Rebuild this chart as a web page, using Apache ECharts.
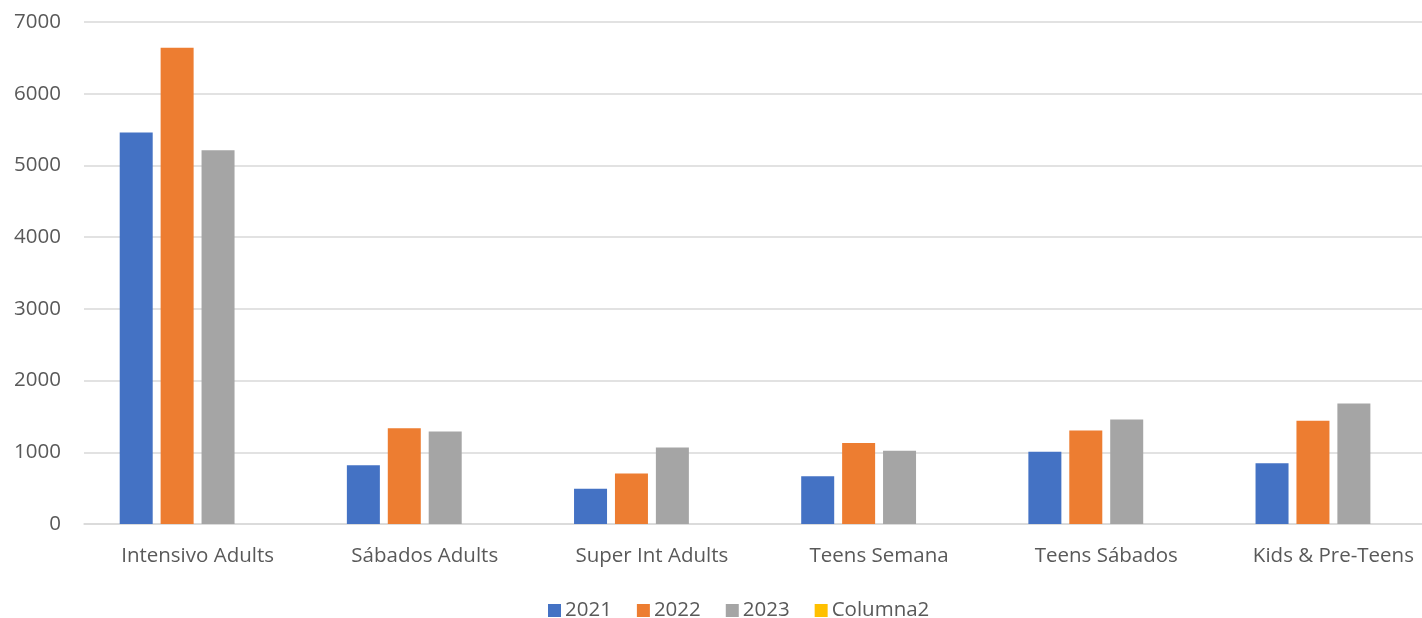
<!DOCTYPE html>
<html><head><meta charset="utf-8">
<script src="https://cdn.jsdelivr.net/npm/echarts@6/dist/echarts.min.js"></script>
<style>html,body{margin:0;padding:0;background:#fff;overflow:hidden}#c{width:1450px;height:618px}</style>
</head><body><div id="c"></div>
<script>
const categories = ['Intensivo Adults','Sábados Adults','Super Int Adults','Teens Semana','Teens Sábados','Kids & Pre-Teens'];
const s2021 = [5460, 820, 490, 666, 1006, 848];
const s2022 = [6640, 1336, 703, 1131, 1303, 1439];
const s2023 = [5210, 1289, 1066, 1020, 1457, 1680];
const columna2 = [null, null, null, null, null, null];
const yTicks = [0,1000,2000,3000,4000,5000,6000,7000];

const font = 'Open Sans';
const fs = 20.5;
const chart = echarts.init(document.getElementById('c'));
function bar(name, data, color){
  return {name, type:'bar', data, itemStyle:{color}, barWidth:33, barGap:'24%', barCategoryGap:'30%'};
}
chart.setOption({
  animation:false,
  grid:{left:84,right:3,top:22,bottom:94},
  legend:{top:595,left:543,itemWidth:13,itemHeight:13,itemGap:25,icon:'rect',
    textStyle:{color:'#595959',fontSize:fs,fontFamily:font,padding:[0,0,0,-1]}},
  xAxis:{type:'category',data:categories,
    axisLine:{lineStyle:{color:'#d9d9d9',width:1.5}},axisTick:{show:false},
    axisLabel:{color:'#595959',fontSize:fs,fontFamily:font,margin:22}},
  yAxis:{type:'value',min:0,max:7000,interval:1000,
    axisLine:{show:false},axisTick:{show:false},
    splitLine:{lineStyle:{color:'#d9d9d9',width:1.5}},
    axisLabel:{color:'#595959',fontSize:fs,fontFamily:font,margin:23,
      formatter:v=>yTicks.includes(v)?String(v):''}},
  series:[
    bar('2021',s2021,'#4472c4'),
    bar('2022',s2022,'#ed7d31'),
    bar('2023',s2023,'#a5a5a5'),
    bar('Columna2',columna2,'#ffc000')
  ]
});
</script></body></html>
